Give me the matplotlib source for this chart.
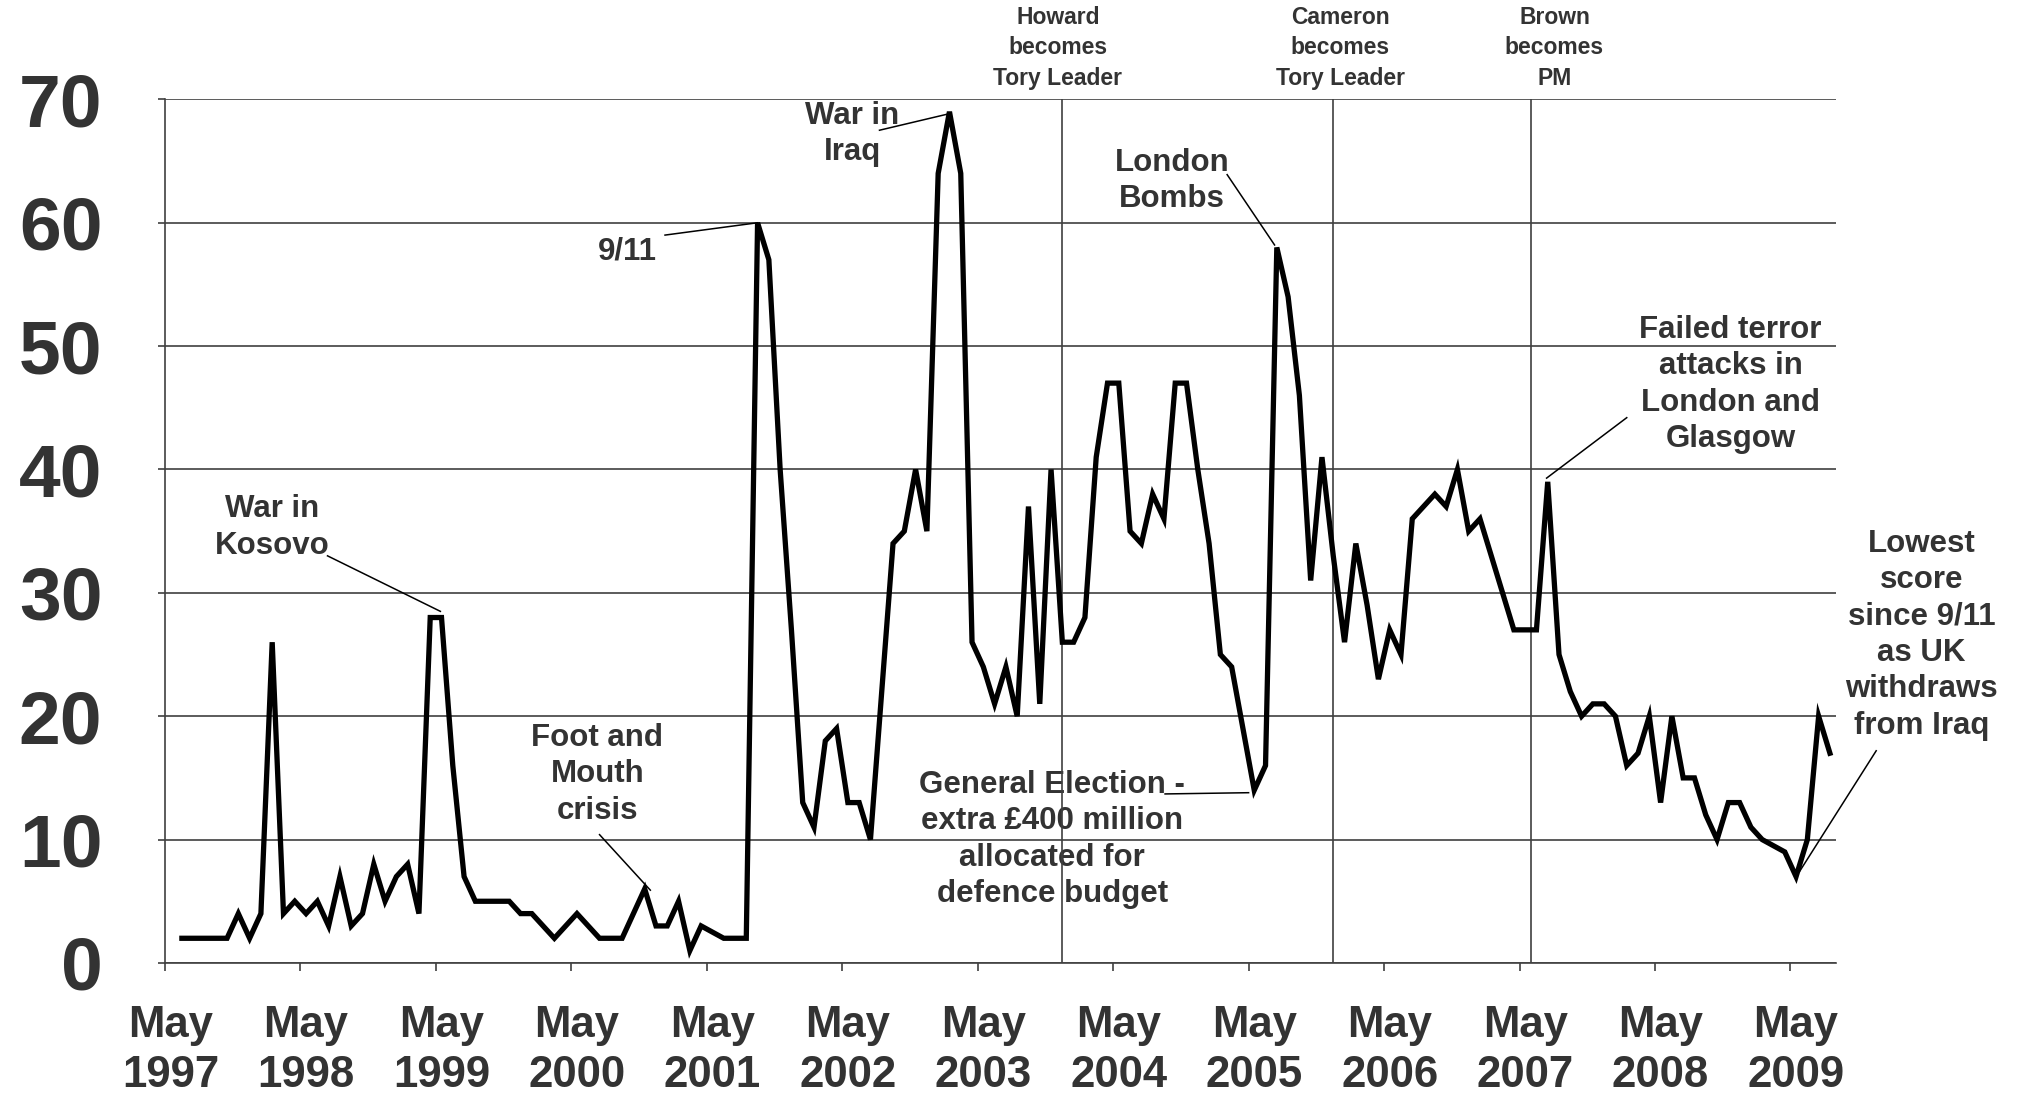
import matplotlib.pyplot as plt
import numpy as np

plt.rcParams['font.family'] = ['Liberation Sans', 'DejaVu Sans']
plt.rcParams['font.weight'] = 'bold'

# Monthly scores, June 1997 - August 2009
scores = [2, 2, 2, 2, 2, 4, 2, 4, 26, 4,
          5, 4, 5, 3, 7, 3, 4, 8, 5, 7,
          8, 4, 28, 28, 16, 7, 5, 5, 5, 5,
          4, 4, 3, 2, 3, 4, 3, 2, 2, 2,
          4, 6, 3, 3, 5, 1, 3, 2.5, 2, 2,
          2, 60, 57, 40, 27, 13, 11, 18, 19, 13,
          13, 10, 22, 34, 35, 40, 35, 64, 69, 64,
          26, 24, 21, 24, 20, 37, 21, 40, 26, 26,
          28, 41, 47, 47, 35, 34, 38, 36, 47, 47,
          40, 34, 25, 24, 19, 14, 16, 58, 54, 46,
          31, 41, 33, 26, 34, 29, 23, 27, 25, 36,
          37, 38, 37, 40, 35, 36, 33, 30, 27, 27,
          27, 39, 25, 22, 20, 21, 21, 20, 16, 17,
          20, 13, 20, 15, 15, 12, 10, 13, 13, 11,
          10, 9.5, 9, 7, 10, 20, 17]
months = np.arange(1, len(scores) + 1)   # 0 = May 1997

years = list(range(1997, 2010))
year_labels = ['May\n%d' % y for y in years]

# political events (vertical lines + labels above the plot)
event_x = [79, 103, 120.5]
event_labels = ['Howard\nbecomes\nTory Leader', 'Cameron\nbecomes\nTory Leader',
                'Brown\nbecomes\nPM']
event_label_x = [78.6, 103.6, 122.6]

# annotations: text, text position, leader line start, leader line end
notes = [
    ('War in\nKosovo', (9.0, 35.3), (13.9, 33.0), (23.9, 28.5)),
    ('Foot and\nMouth\ncrisis', (37.8, 15.3), (38.0, 10.4), (42.5, 5.9)),
    ('9/11', (40.5, 57.7), (43.8, 59.0), (52.0, 60.0)),
    ('War in\nIraq', (60.4, 67.2), (62.8, 67.5), (68.8, 68.8)),
    ('London\nBombs', (88.7, 63.4), (93.6, 63.9), (97.8, 58.2)),
    ('General Election -\nextra £400 million\nallocated for\ndefence budget',
     (78.1, 10.0), (88.1, 13.7), (95.5, 13.8)),
    ('Failed terror\nattacks in\nLondon and\nGlasgow', (138.2, 46.9), (129.0, 44.2), (121.9, 39.3)),
    ('Lowest\nscore\nsince 9/11\nas UK\nwithdraws\nfrom Iraq', (155.1, 26.6), (151.1, 17.2), (144.3, 7.4)),
]

grid_col = '#404040'
text_col = '#333333'

fig = plt.figure(figsize=(20.24, 10.97), dpi=100)
ax = fig.add_axes([0.0815, 0.1222, 0.8254, 0.7872])

ax.plot(months, scores, color='black', lw=3.8, solid_joinstyle='miter', zorder=4)

for ex in event_x:
    ax.axvline(ex, color=grid_col, lw=1.2, zorder=3)
for lx, lab in zip(event_label_x, event_labels):
    ax.text(lx, 74.2, lab, ha='center', va='center', fontsize=16.5,
            color=text_col, linespacing=1.42, clip_on=False)

for txt, pos, a, b in notes:
    ax.text(pos[0], pos[1], txt, ha='center', va='center', fontsize=22.5,
            color=text_col, linespacing=1.28, zorder=2)
    ax.plot([a[0], b[0]], [a[1], b[1]], color='black', lw=1.1, clip_on=False, zorder=5)

ax.set_xlim(-0.5, 147.5)
ax.set_ylim(0, 70)
ax.set_yticks(range(0, 80, 10))
ax.grid(axis='y', color=grid_col, lw=1.2, zorder=1)
ax.set_axisbelow(True)

ax.set_xticks(range(0, 145, 12))
ax.set_xticklabels(year_labels, linespacing=1.3)
ax.set_xticks(np.arange(-0.5, 144, 12), minor=True)
ax.tick_params(axis='x', which='major', length=0, pad=30, labelsize=31.5,
               labelcolor=text_col)
ax.tick_params(axis='x', which='minor', length=6, width=1.2, color=grid_col)
ax.tick_params(axis='y', length=5, width=1.2, color=grid_col, pad=40,
               labelsize=54, labelcolor=text_col)

for s in ['top', 'right']:
    ax.spines[s].set_visible(False)
for s in ['left', 'bottom']:
    ax.spines[s].set_color(grid_col)
    ax.spines[s].set_linewidth(1.2)

fig.savefig('out.png', dpi=100)
